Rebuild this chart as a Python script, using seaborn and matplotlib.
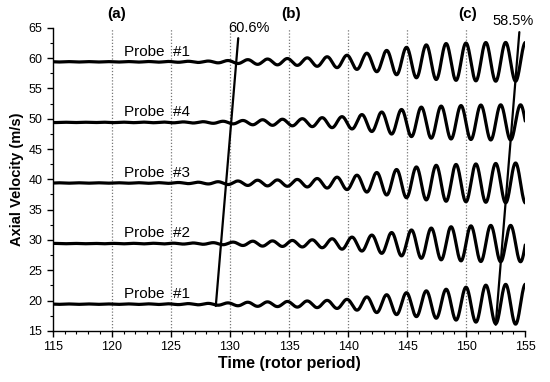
import numpy as np
import pandas as pd
import matplotlib
matplotlib.use("Agg")
import matplotlib.pyplot as plt
import seaborn as sns
from matplotlib.ticker import MultipleLocator

# ------------------------ DATA ------------------------

probe_names = ["Probe  #1", "Probe  #2", "Probe  #3", "Probe  #4", "Probe  #1 "]
probe_mean = [19.4, 29.4, 39.4, 49.4, 59.4]

# envelope (half peak-to-peak, m/s) of each trace at these times
env_time = [115, 120, 125, 128, 130, 132, 134, 136, 138, 140, 142, 144, 146, 148, 150, 152, 154, 155]
amp_probe1 = [0.03, 0.03, 0.06, 0.12, 0.22, 0.35, 0.4, 0.5, 0.6, 0.8, 1.3, 1.7, 2.1, 2.4, 2.8, 3.2, 3.3, 3.3]
amp_probe2 = [0.03, 0.03, 0.06, 0.12, 0.22, 0.4, 0.45, 0.55, 0.7, 1.0, 1.4, 1.9, 2.4, 2.7, 2.9, 3.0, 3.0, 3.0]
amp_probe3 = [0.03, 0.03, 0.06, 0.15, 0.27, 0.45, 0.5, 0.6, 0.8, 1.1, 1.6, 2.2, 2.7, 3.0, 3.1, 3.2, 3.3, 3.3]
amp_probe4 = [0.03, 0.03, 0.06, 0.12, 0.22, 0.4, 0.5, 0.6, 0.8, 1.0, 1.5, 2.0, 2.5, 2.7, 2.8, 2.9, 2.9, 2.9]
amp_probe1b = [0.03, 0.03, 0.06, 0.12, 0.22, 0.4, 0.5, 0.6, 0.8, 1.1, 1.5, 2.1, 2.7, 3.0, 3.1, 3.2, 3.2, 3.2]

stall_speed = 0.595      # stall cells per rotor period
trough_time = 152.5      # trough of the lowest trace

# the two propagation lines
line_a_time = [128.8, 130.7]
line_a_vel = [19.1, 63.3]
line_b_time = [152.5, 154.5]
line_b_vel = [16.0, 64.3]
pct_labels = ["60.6%", "58.5%"]

phase_labels = ["(a)", "(b)", "(c)"]
phase_time = [120.4, 135.2, 150.1]
grid_times = [120, 125, 130, 135, 140, 145, 150]


# ------------------------ BUILD TRACES ------------------------

def build_traces():
    t = np.linspace(115, 155, 4000)
    period = 1.0 / stall_speed
    amps = [amp_probe1, amp_probe2, amp_probe3, amp_probe4, amp_probe1b]
    frames = []
    for j, (name, m, a) in enumerate(zip(probe_names, probe_mean, amps)):
        env = np.interp(t, env_time, a)
        shift = trough_time + j * period / 4
        v = m - env * np.cos(2 * np.pi * (t - shift) / period)
        frames.append(pd.DataFrame({"time": t, "vel": v, "probe": name}))
    return pd.concat(frames, ignore_index=True)


# ------------------------ PLOT ------------------------

sns.set_theme(style="ticks")
plt.rcParams["font.family"] = ["Liberation Sans", "DejaVu Sans"]
plt.rcParams.update({"text.color": "black", "axes.labelcolor": "black",
                     "xtick.color": "black", "ytick.color": "black"})

fig, ax = plt.subplots(figsize=(5.5, 3.82), dpi=100)
fig.subplots_adjust(left=0.096, right=0.955, bottom=0.134, top=0.927)

for g in grid_times:
    ax.axvline(g, color="#777777", lw=0.9, ls=(0, (1, 1.5)), zorder=1)

df = build_traces()
sns.lineplot(data=df, x="time", y="vel", hue="probe", palette=["black"] * 5,
             estimator=None, sort=False, legend=False, lw=2.3, ax=ax, zorder=3)

ax.plot(line_a_time, line_a_vel, color="black", lw=1.6, zorder=4, clip_on=False)
ax.plot(line_b_time, line_b_vel, color="black", lw=1.6, zorder=4, clip_on=False)
ax.text(131.6, 64.9, pct_labels[0], fontsize=10.5, ha="center", va="center", clip_on=False)
ax.text(154.0, 66.1, pct_labels[1], fontsize=10.5, ha="center", va="center", clip_on=False)

for name, m in zip(probe_names, probe_mean):
    ax.text(121.0, m + 1.7, name.strip(), fontsize=11, ha="left", va="center")

for lab, x in zip(phase_labels, phase_time):
    ax.text(x, 67.3, lab, fontsize=11, fontweight="bold", ha="center", va="center", clip_on=False)

ax.set_xlim(115, 155)
ax.set_ylim(15, 65)
ax.xaxis.set_major_locator(MultipleLocator(5))
ax.xaxis.set_minor_locator(MultipleLocator(1))
ax.yaxis.set_major_locator(MultipleLocator(5))
ax.yaxis.set_minor_locator(MultipleLocator(2.5))
ax.tick_params(which="major", length=4, width=1, labelsize=9, direction="out")
ax.tick_params(which="minor", length=2.5, width=0.8, direction="out")
ax.set_xlabel("Time (rotor period)", fontsize=11.5, fontweight="bold", labelpad=2)
ax.set_ylabel("Axial Velocity (m/s)", fontsize=10.5, fontweight="bold", labelpad=3)
sns.despine(ax=ax)
for s in ["left", "bottom"]:
    ax.spines[s].set_color("black")
    ax.spines[s].set_linewidth(1.0)

fig.savefig("out.png", dpi=100, facecolor="white")
